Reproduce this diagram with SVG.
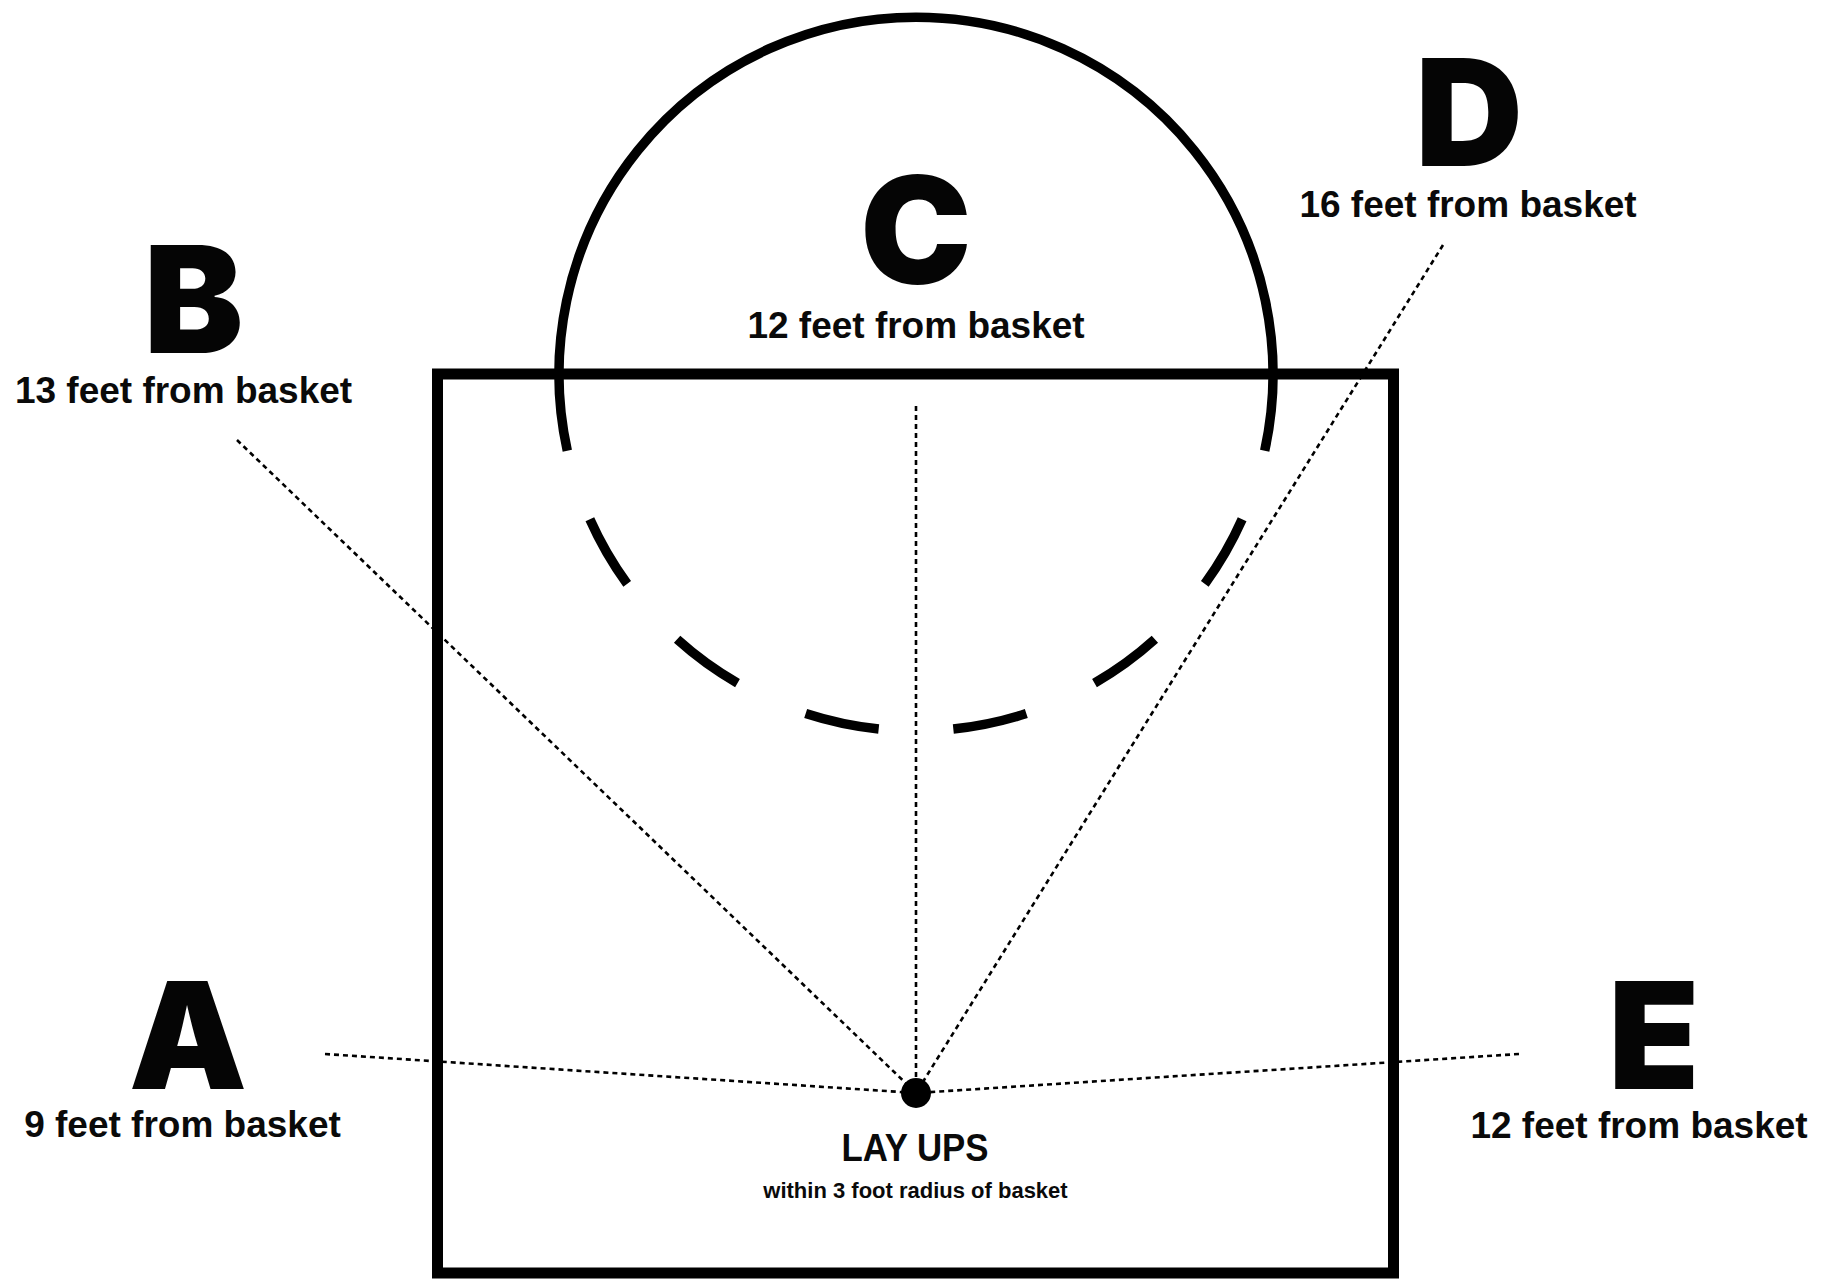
<svg xmlns="http://www.w3.org/2000/svg" width="1833" height="1279" viewBox="0 0 1833 1279">
<style>
.big{font-family:Inter,"Liberation Sans",sans-serif;font-weight:900;font-size:149px;fill:#050505;text-anchor:middle}
.lbl{font-family:"Liberation Sans",Arial,sans-serif;font-weight:bold;font-size:37px;fill:#0a0a0a;text-anchor:middle}
.conn{fill:none;stroke:#000;stroke-width:2.6;stroke-dasharray:5 4}
.court{fill:none;stroke:#000}
</style>
<rect width="1833" height="1279" fill="#fff"/>
<g id="court">
<rect class="court" x="437.5" y="374" width="956" height="899" stroke-width="11"/>
<g class="court" stroke-width="9.5">
<path d="M 567.3 450.7 A 357 357 0 1 1 1264.7 450.7"/>
<path d="M 589.86 519.21 A 357 357 0 0 0 627.18 583.84"/>
<path d="M 677.12 639.3 A 357 357 0 0 0 737.5 683.17"/>
<path d="M 805.68 713.53 A 357 357 0 0 0 878.68 729.04"/>
<path d="M 953.32 729.04 A 357 357 0 0 0 1026.32 713.53"/>
<path d="M 1094.5 683.17 A 357 357 0 0 0 1154.88 639.3"/>
<path d="M 1204.82 583.84 A 357 357 0 0 0 1242.14 519.21"/>
</g>
</g>
<g id="connectors">
<line class="conn" x1="325" y1="1054" x2="916" y2="1093"/>
<line class="conn" x1="237" y1="440" x2="916" y2="1093"/>
<line class="conn" x1="916" y1="406" x2="916" y2="1093"/>
<line class="conn" x1="1443" y1="245" x2="916" y2="1093"/>
<line class="conn" x1="1519" y1="1054" x2="916" y2="1093"/>
</g>
<g id="basket">
<circle cx="916" cy="1093" r="15" fill="#000"/>
<text x="915" y="1161" font-family="Liberation Sans,Arial,sans-serif" font-weight="bold" font-size="38" fill="#0a0a0a" text-anchor="middle" textLength="147" lengthAdjust="spacingAndGlyphs">LAY UPS</text>
<text x="915.5" y="1198" font-family="Liberation Sans,Arial,sans-serif" font-weight="bold" font-size="22" fill="#0a0a0a" text-anchor="middle">within 3 foot radius of basket</text>
</g>
<g id="node-a">
<text class="big" x="188" y="1089">A</text>
<text class="lbl" x="182.5" y="1137">9 feet from basket</text>
</g>
<g id="node-b">
<text class="big" x="193.5" y="353">B</text>
<text class="lbl" x="183.5" y="403">13 feet from basket</text>
</g>
<g id="node-c">
<text class="big" x="916" y="284">C</text>
<text class="lbl" x="916" y="338">12 feet from basket</text>
</g>
<g id="node-d">
<text class="big" x="1469" y="166">D</text>
<text class="lbl" x="1468" y="217">16 feet from basket</text>
</g>
<g id="node-e">
<text class="big" x="1654" y="1089">E</text>
<text class="lbl" x="1639" y="1138">12 feet from basket</text>
</g>
</svg>
